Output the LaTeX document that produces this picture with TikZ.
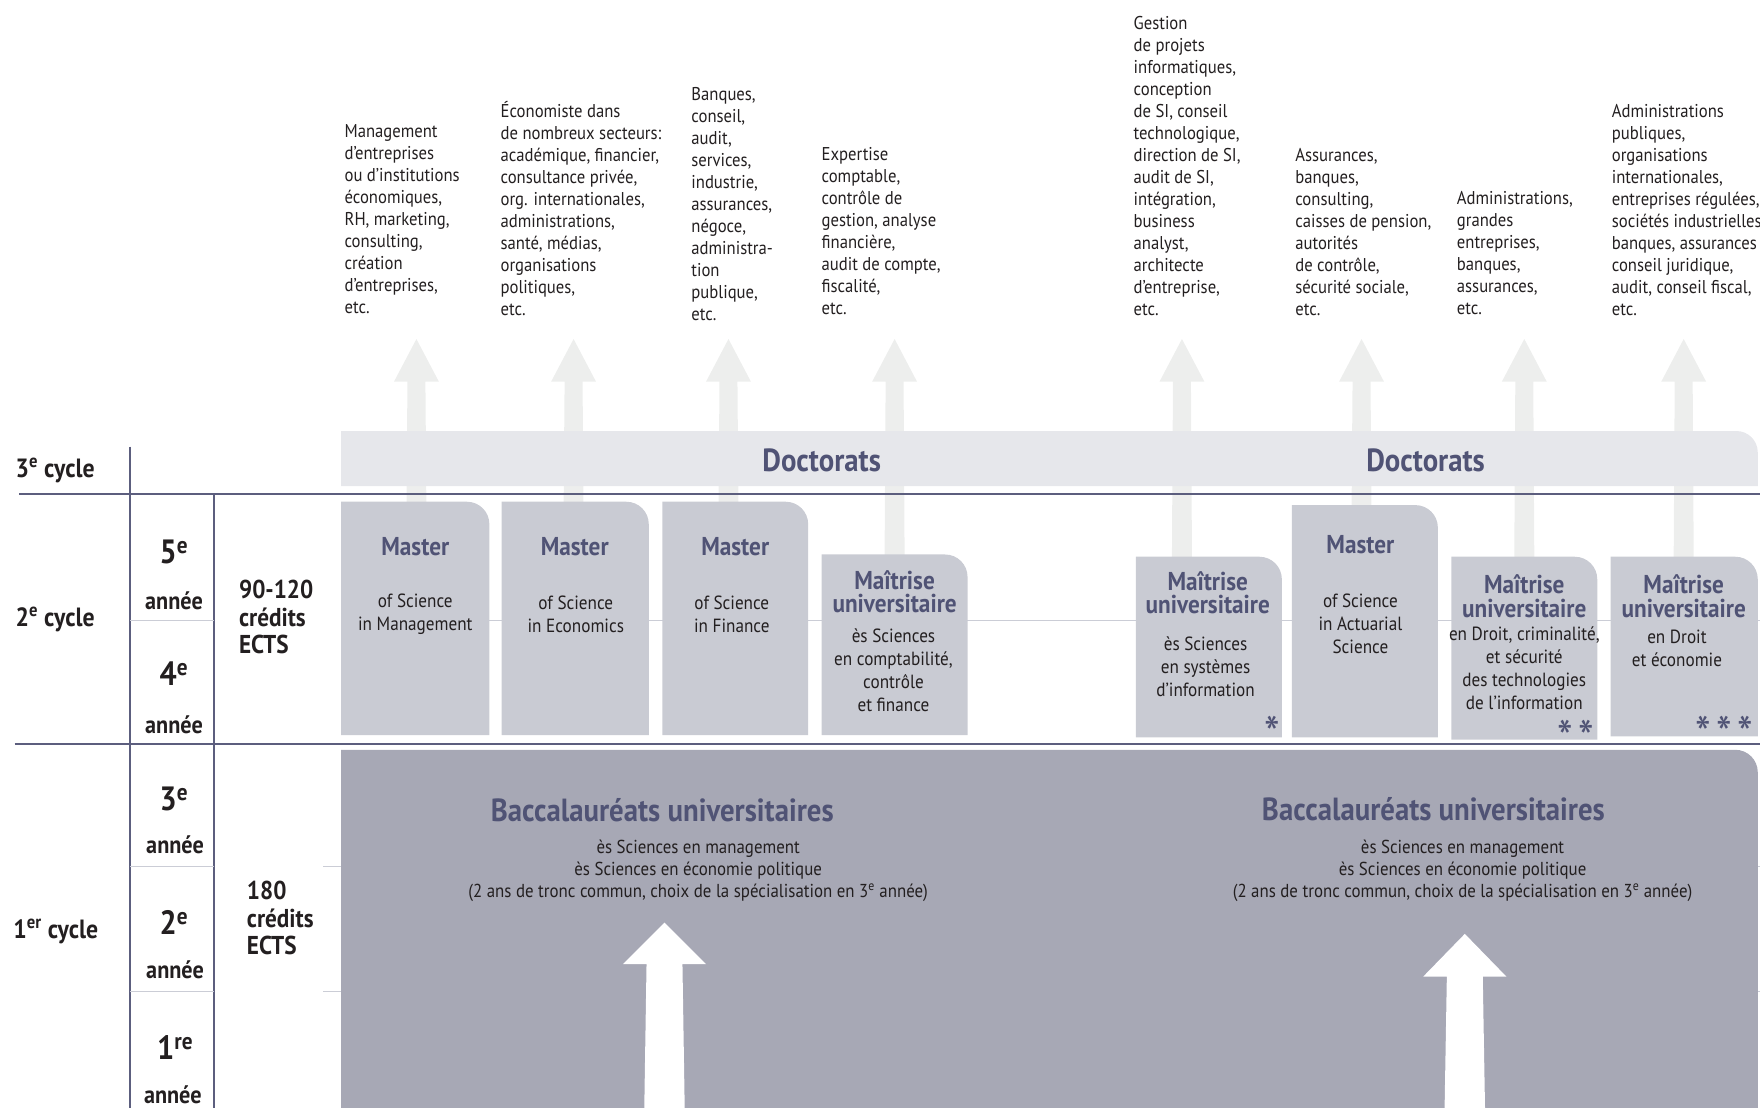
\documentclass[tikz,border=0pt]{standalone}
\usepackage{fontspec}
\setmainfont{PT Sans}[FakeStretch=0.9]
\definecolor{slate}{RGB}{80,83,117}
\definecolor{darkline}{RGB}{92,94,126}
\definecolor{lightline}{RGB}{203,205,214}
\definecolor{docbar}{RGB}{230,231,235}
\definecolor{liftcol}{RGB}{237,238,237}
\definecolor{masterbox}{RGB}{201,203,211}
\definecolor{bachbox}{RGB}{167,168,181}
\definecolor{ink}{RGB}{35,31,32}
% degree box with rounded top-right corner: x1, ytop, x2, ybottom, colour, radius
\newcommand\degbox[6]{\fill[#5] (#1,#4) -- (#1,#2) -- ([xshift=-#6pt]#3,#2) arc[start angle=90,end angle=0,radius=#6pt] -- (#3,#4) -- cycle;}
% light arrow towards careers: centre x, bottom y
\newcommand\liftarrow[2]{\fill[liftcol] (#1,302) -- (#1+20,340) -- (#1+8,340) -- (#1+9,#2) -- (#1-9,#2) -- (#1-8,340) -- (#1-20,340) -- cycle;}
% white entry arrow: centre x, tip y, head base y
\newcommand\entryarrow[3]{\fill[white] (#1,#2) -- (#1+37,#3) -- (#1+16,#3) -- (#1+18,987) -- (#1-18,987) -- (#1-16,#3) -- (#1-37,#3) -- cycle;}
\newcommand\stargap{\hspace{5pt}}
\begin{document}
\begin{tikzpicture}[x=1pt,y=-1pt,
  every node/.style={inner sep=0pt,outer sep=0pt,text=ink},
  desc/.style={anchor=west,align=left,font=\fontsize{16.5}{19.6}\selectfont},
  boxtitle/.style={align=center,text=slate,font=\bfseries\fontsize{23}{21}\selectfont},
  boxsub/.style={align=center,font=\fontsize{17}{20.5}\selectfont},
  bigtitle/.style={text=slate,font=\bfseries\fontsize{28.5}{30}\selectfont},
  bachsub/.style={align=center,font=\fontsize{16.7}{19.5}\selectfont},
  cyclelbl/.style={anchor=west,font=\bfseries\fontsize{23.5}{24}\selectfont},
  yearnum/.style={font=\bfseries\fontsize{30}{32}\selectfont},
  yearword/.style={font=\bfseries\fontsize{22}{24}\selectfont},
  ects/.style={anchor=west,align=left,font=\bfseries\fontsize{23}{24.5}\selectfont},
  stars/.style={anchor=east,text=slate,font=\fontsize{44}{44}\selectfont},
  dline/.style={draw=darkline,line width=1.6pt},
  lline/.style={draw=lightline,line width=1.1pt},
]
\useasboundingbox (0,0) rectangle (1568,987);

% light guide lines (behind boxes)
\coordinate (g1a) at (304,553); \coordinate (g1b) at (1568,553);
\coordinate (g2a) at (288,772); \coordinate (g2b) at (1568,772);
\coordinate (g3a) at (288,883); \coordinate (g3b) at (1568,883);
\draw[lline] (g1a) -- (g1b);
\draw[lline] (g2a) -- (g2b);
\draw[lline] (g3a) -- (g3b);

% light arrows to careers
\liftarrow{371}{470}
\liftarrow{511}{470}
\liftarrow{649}{470}
\liftarrow{797}{510}
\liftarrow{1053}{510}
\liftarrow{1213}{470}
\liftarrow{1358}{510}
\liftarrow{1500}{510}

% doctorate bar
\degbox{304}{384}{1566}{433}{docbar}{19}

% 2nd cycle boxes
\degbox{304}{447}{436}{655}{masterbox}{20}
\degbox{447}{447}{578}{655}{masterbox}{20}
\degbox{590}{447}{720}{655}{masterbox}{20}
\degbox{732}{494}{862}{655}{masterbox}{20}
\degbox{1012}{496}{1142}{657}{masterbox}{20}
\degbox{1151}{450}{1281}{657}{masterbox}{20}
\degbox{1293}{496}{1423}{659}{masterbox}{20}
\degbox{1435}{496}{1566}{656}{masterbox}{20}

% bachelor box
\degbox{304}{668}{1566}{987}{bachbox}{20}
\entryarrow{592}{822}{859}
\entryarrow{1305}{832}{870}

% table lines
\coordinate (h3a) at (17,440);  \coordinate (h3b) at (1568,440);
\coordinate (h2a) at (13,663);  \coordinate (h2b) at (1568,663);
\coordinate (v1a) at (116,398); \coordinate (v1b) at (116,987);
\coordinate (v2a) at (191,440); \coordinate (v2b) at (191,987);
\draw[dline] (h3a) -- (h3b);
\draw[dline] (h2a) -- (h2b);
\draw[dline] (v1a) -- (v1b);
\draw[dline] (v2a) -- (v2b);
\coordinate (s1a) at (116,553); \coordinate (s1b) at (191,553);
\coordinate (s2a) at (116,772); \coordinate (s2b) at (191,772);
\coordinate (s3a) at (116,883); \coordinate (s3b) at (191,883);
\draw[lline] (s1a) -- (s1b);
\draw[lline] (s2a) -- (s2b);
\draw[lline] (s3a) -- (s3b);

% left column
\node[cyclelbl] (cyc3) at (14,419) {3\textsuperscript{e} cycle};
\node[cyclelbl] (cyc2) at (14,552) {2\textsuperscript{e} cycle};
\node[cyclelbl] (cyc1) at (12,830) {1\textsuperscript{er} cycle};
\node[yearnum] (y5) at (155,492) {5\textsuperscript{e}};
\node[yearword] (a5) at (155,535) {année};
\node[yearnum] (y4) at (155,600) {4\textsuperscript{e}};
\node[yearword] (a4) at (155,646) {année};
\node[yearnum] (y3) at (155,712) {3\textsuperscript{e}};
\node[yearword] (a3) at (156,753) {année};
\node[yearnum] (y2) at (155,822) {2\textsuperscript{e}};
\node[yearword] (a2) at (156,864) {année};
\node[yearnum] (y1) at (156,933) {1\textsuperscript{re}};
\node[yearword] (a1) at (154,975) {année};
\node[ects] (ects2) at (213,550) {90-120\\crédits\\ECTS};
\node[ects] (ects1) at (220,818) {180\\crédits\\ECTS};

% careers
\node[desc] (d1) at (307,195) {Management\\d’entreprises\\ou d’institutions\\économiques,\\RH, marketing,\\consulting,\\création\\d’entreprises,\\etc.};
\node[desc] (d2) at (446,185.5) {Économiste dans\\de nombreux secteurs:\\académique, financier,\\consultance privée,\\org. internationales,\\administrations,\\santé, médias,\\organisations\\politiques,\\etc.};
\node[desc] (d3) at (616,182) {Banques,\\conseil,\\audit,\\services,\\industrie,\\assurances,\\négoce,\\administra-\\tion\\publique,\\etc.};
\node[desc] (d4) at (732,205.5) {Expertise\\comptable,\\contrôle de\\gestion, analyse\\financière,\\audit de compte,\\fiscalité,\\etc.};
\node[desc] (d5) at (1010,147.5) {Gestion\\de projets\\informatiques,\\conception\\de SI, conseil\\technologique,\\direction de SI,\\audit de SI,\\intégration,\\business\\analyst,\\architecte\\d’entreprise,\\etc.};
\node[desc] (d6) at (1154,207) {Assurances,\\banques,\\consulting,\\caisses de pension,\\autorités\\de contrôle,\\sécurité sociale,\\etc.};
\node[desc] (d7) at (1298,225) {Administrations,\\grandes\\entreprises,\\banques,\\assurances,\\etc.};
\node[desc] (d8) at (1436,187) {Administrations\\publiques,\\organisations\\internationales,\\entreprises régulées,\\sociétés industrielles\\banques, assurances\\conseil juridique,\\audit, conseil fiscal,\\etc.};

% doctorates
\node[bigtitle] (doc1) at (732,410) {Doctorats};
\node[bigtitle] (doc2) at (1270,410) {Doctorats};

% 2nd cycle texts
\node[boxtitle] (t1) at (370,487) {Master};
\node[boxsub] (b1) at (370,547) {of Science\\in Management};
\node[boxtitle] (t2) at (512,487) {Master};
\node[boxsub] (b2) at (513,547) {of Science\\in Economics};
\node[boxtitle] (t3) at (655,487) {Master};
\node[boxsub] (b3) at (652,547) {of Science\\in Finance};
\node[boxtitle] (t4) at (797,527) {Maîtrise\\universitaire};
\node[boxsub] (b4) at (796,597) {ès Sciences\\en comptabilité,\\contrôle\\et finance};
\node[boxtitle] (t5) at (1076,528) {Maîtrise\\universitaire};
\node[boxsub] (b5) at (1074,594) {ès Sciences\\en systèmes\\d’information};
\node[stars] (st5) at (1140,654) {*};
\node[boxtitle] (t6) at (1212,485) {Master};
\node[boxsub] (b6) at (1212,556) {of Science\\in Actuarial\\Science};
\node[boxtitle] (t7) at (1358,531) {Maîtrise\\universitaire};
\node[boxsub] (b7) at (1358,595) {en Droit, criminalité,\\et sécurité\\des technologies\\de l’information};
\node[stars] (st7) at (1420,657) {*\stargap*};
\node[stars] (st8) at (1562,654) {*\stargap*\stargap*};
\node[boxtitle] (t8) at (1500,531) {Maîtrise\\universitaire};
\node[boxsub] (b8) at (1494,578) {en Droit\\et économie};

% bachelor texts
\node[bigtitle] (ba1) at (590,722) {Baccalauréats universitaires};
\node[bachsub] (bs1) at (622,776) {ès Sciences en management\\ès Sciences en économie politique\\(2 ans de tronc commun, choix de la spécialisation en 3\textsuperscript{e} année)};
\node[bigtitle] (ba2) at (1277,721) {Baccalauréats universitaires};
\node[bachsub] (bs2) at (1303,776) {ès Sciences en management\\ès Sciences en économie politique\\(2 ans de tronc commun, choix de la spécialisation en 3\textsuperscript{e} année)};
\end{tikzpicture}
\end{document}
